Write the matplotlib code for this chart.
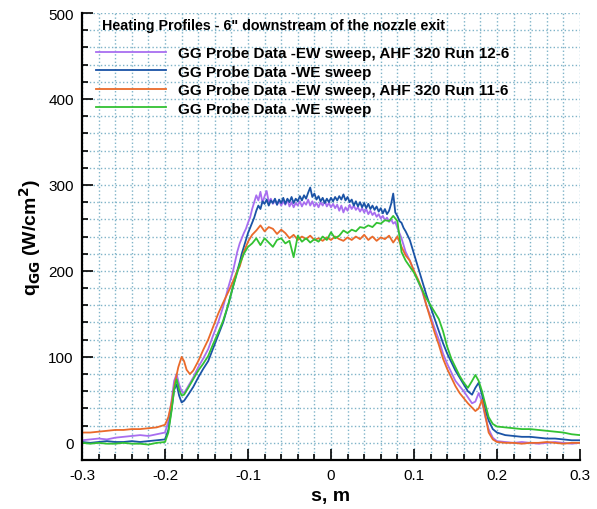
import numpy as np
import matplotlib
matplotlib.use("Agg")
import matplotlib.pyplot as plt
from matplotlib.ticker import MultipleLocator

plt.rcParams['font.family'] = ['Liberation Sans', 'DejaVu Sans']

# sample positions (m)
x_tail_left = np.round(np.linspace(-0.30, -0.20, 11), 4)
x_tail_right = np.round(np.linspace(0.21, 0.30, 10), 4)
x_rise = [-0.196, -0.192, -0.189, -0.186, -0.183, -0.180, -0.177, -0.172, -0.166,
          -0.160, -0.154, -0.148, -0.142, -0.136, -0.130, -0.124, -0.118, -0.113]
x_rise_or = [-0.196, -0.192, -0.188, -0.184, -0.180, -0.177, -0.174, -0.170, -0.166,
             -0.160, -0.154, -0.148, -0.142, -0.136, -0.130, -0.124, -0.118, -0.113]
x_fine = np.round(np.linspace(-0.11, 0.09, 81), 4)
x_coarse = np.round(np.linspace(-0.11, 0.09, 41), 4)
x_drop = [0.095, 0.100, 0.105, 0.110, 0.115, 0.120, 0.125, 0.130, 0.135, 0.140, 0.145,
          0.150, 0.155, 0.160, 0.165, 0.170, 0.174, 0.178, 0.182, 0.186, 0.190, 0.195, 0.200]

# GG Probe Data -EW sweep, AHF 320 Run 12-6
ew12_tail_l = [3, 4, 5, 4, 6, 7, 8, 9, 8, 10, 12]
ew12_rise = [25, 50, 72, 80, 68, 60, 58, 66, 76, 88, 98, 109, 125, 140, 158, 180, 200, 222]
ew12_plat = [232, 238, 244, 249, 256, 262, 272, 280, 288, 282, 292, 279, 287, 293, 280, 284,
             278, 283, 277, 282, 276, 281, 277, 283, 275, 280, 274, 279, 276, 281, 275, 280,
             277, 283, 276, 281, 275, 279, 274, 280, 276, 281, 275, 279, 274, 278, 273, 277,
             270, 276, 268, 274, 270, 277, 272, 276, 271, 274, 269, 273, 268, 272, 266, 270,
             265, 268, 263, 266, 261, 264, 259, 262, 257, 260, 255, 257, 250, 244, 238, 230, 222]
ew12_drop = [212, 200, 188, 176, 160, 147, 133, 120, 104, 92, 82, 72, 66, 60, 53, 46, 48, 58,
             48, 30, 16, 6, 2]
ew12_tail_r = [1, 0, 1, 0, -1, 0, 1, 0, -1, 0]

# GG Probe Data -WE sweep (12-6)
we12_tail_l = [1, 0, 1, 2, 1, 1, 2, 1, 2, 3, 4]
we12_rise = [15, 40, 62, 68, 55, 47, 49, 56, 65, 76, 86, 95, 110, 125, 140, 160, 182, 200]
we12_plat = [210, 220, 228, 236, 244, 250, 256, 262, 270, 276, 272, 281, 278, 283, 276, 282,
             279, 284, 277, 283, 279, 285, 278, 284, 280, 286, 279, 284, 281, 287, 282, 288,
             284, 291, 297, 286, 290, 283, 287, 281, 285, 279, 284, 280, 285, 281, 286, 282,
             287, 283, 289, 282, 286, 280, 283, 276, 281, 275, 280, 274, 279, 273, 278, 272,
             276, 271, 275, 269, 273, 267, 272, 266, 270, 278, 290, 268, 264, 258, 256, 250, 246]
we12_drop = [236, 220, 204, 188, 172, 158, 144, 130, 116, 104, 94, 84, 76, 68, 60, 56, 64, 70,
             56, 38, 26, 16, 12]
we12_tail_r = [9, 8, 7, 7, 6, 5, 5, 4, 3, 3]

# GG Probe Data -EW sweep, AHF 320 Run 11-6
ew11_tail_l = [12, 12, 13, 14, 15, 15, 16, 16, 17, 18, 21]
ew11_rise = [30, 47, 70, 88, 100, 95, 85, 80, 84, 95, 108, 120, 135, 150, 163, 175, 188, 200]
ew11_plat = [205, 222, 234, 242, 247, 253, 246, 251, 249, 243, 248, 244, 238, 242, 236, 240,
             237, 241, 236, 238, 235, 239, 236, 240, 237, 235, 239, 236, 240, 237, 242, 236,
             240, 235, 239, 237, 241, 233, 240, 228, 218]
ew11_drop = [212, 200, 190, 178, 160, 144, 128, 114, 98, 86, 76, 66, 58, 52, 46, 41, 37, 40,
             50, 32, 12, 4, 1]
ew11_tail_r = [0, 0, -1, 0, 0, 1, 0, -1, 0, 0]

# GG Probe Data -WE sweep (11-6)
we11_tail_l = [0, -1, 0, -1, -1, 0, -1, -1, -2, 0, 1]
we11_rise = [12, 38, 62, 74, 62, 55, 56, 64, 74, 84, 92, 101, 115, 128, 142, 160, 182, 198]
we11_plat = [208, 220, 228, 232, 238, 230, 238, 233, 228, 236, 238, 232, 235, 216, 241, 234,
             238, 233, 237, 234, 240, 236, 245, 238, 241, 247, 244, 248, 246, 251, 250, 253,
             251, 256, 255, 259, 258, 264, 258, 222, 212]
we11_drop = [205, 198, 188, 178, 168, 160, 152, 144, 130, 112, 98, 88, 78, 70, 64, 72, 79, 72,
             60, 45, 30, 22, 19]
we11_tail_r = [18, 17, 16, 16, 15, 14, 13, 12, 10, 9]

labels = ['GG Probe Data -EW sweep, AHF 320 Run 12-6',
          'GG Probe Data -WE sweep',
          'GG Probe Data -EW sweep, AHF 320 Run 11-6',
          'GG Probe Data -WE sweep']
colors = ['#a86ef0', '#1a53a6', '#ea6a2a', '#33c233']

series = [
    (x_rise, x_fine, ew12_tail_l, ew12_rise, ew12_plat, ew12_drop, ew12_tail_r),
    (x_rise, x_fine, we12_tail_l, we12_rise, we12_plat, we12_drop, we12_tail_r),
    (x_rise_or, x_coarse, ew11_tail_l, ew11_rise, ew11_plat, ew11_drop, ew11_tail_r),
    (x_rise, x_coarse, we11_tail_l, we11_rise, we11_plat, we11_drop, we11_tail_r),
]

fig = plt.figure(figsize=(5.97, 5.10), dpi=100)
ax = fig.add_axes([0.1374, 0.096, 0.834, 0.8765])

for (xr, xp, tl, ri, pl, dr, tr), lab, c in zip(series, labels, colors):
    xs = np.concatenate([x_tail_left, xr, xp, x_drop, x_tail_right])
    ys = np.concatenate([tl, ri, pl, dr, tr])
    ax.plot(xs, ys, color=c, lw=1.3, label=lab)

ax.set_xlim(-0.3, 0.3)
ax.set_ylim(-20, 500)
ax.xaxis.set_minor_locator(MultipleLocator(0.02))
ax.yaxis.set_major_locator(MultipleLocator(100))
ax.yaxis.set_minor_locator(MultipleLocator(20))
ax.set_xticks([-0.3, -0.2, -0.1, 0, 0.1, 0.2, 0.3])
ax.set_xticklabels(['-0.3', '-0.2', '-0.1', '0', '0.1', '0.2', '0.3'])
ax.tick_params(which='both', direction='in', labelsize=11, width=1.2)
ax.tick_params(which='major', length=8, pad=6)
ax.tick_params(which='minor', length=4)
ax.grid(which='both', linestyle=':', color='#7fb3c8', lw=1.0)
ax.set_axisbelow(True)
for s in ['top', 'right']:
    ax.spines[s].set_visible(False)
for s in ['left', 'bottom']:
    ax.spines[s].set_linewidth(1.6)

ax.set_xlabel('s, m', fontsize=14, fontweight='bold', labelpad=3)
ax.set_ylabel(r'q$_{\mathbf{GG}}$ (W/cm$^\mathbf{2}$)', fontsize=14, fontweight='bold')

ax.text(0.04, 0.988, 'Heating Profiles - 6" downstream of the nozzle exit',
        transform=ax.transAxes, fontsize=10.3, fontweight='bold', va='top')
leg = ax.legend(loc='upper left', bbox_to_anchor=(0.0, 0.957), frameon=False,
                prop={'size': 11, 'weight': 'bold'}, handlelength=4.6,
                handletextpad=0.8, labelspacing=0.3)

fig.savefig('out.png', dpi=100)
